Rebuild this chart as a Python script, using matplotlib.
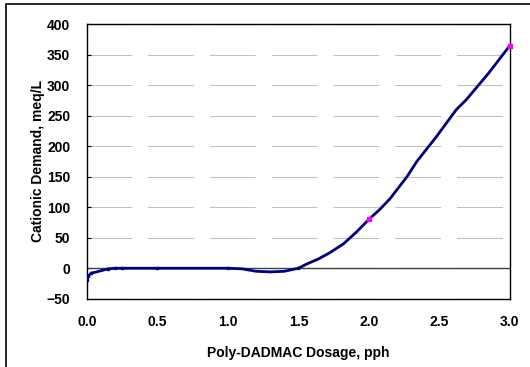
import matplotlib.pyplot as plt
from matplotlib.patches import Rectangle

plt.rcParams['font.family'] = ['Liberation Sans', 'DejaVu Sans']

# Curve (smoothed line)
dosage_curve = [0.0, 0.01, 0.03, 0.07, 0.10, 0.15, 0.20, 0.25, 0.50, 1.00, 1.10, 1.20,
                1.30, 1.40, 1.50, 1.56, 1.64, 1.72, 1.82, 1.91, 2.00, 2.08, 2.15,
                2.27, 2.34, 2.48, 2.62, 2.69, 2.85, 3.00]
demand_curve = [-20, -13, -8, -6, -4, -1, 0, 0, 0, 0, -1, -5,
                -6, -5, 0, 7, 15, 25, 40, 59, 80, 97, 114,
                150, 175, 216, 260, 276, 320, 365]

# Measured points
dosage_pts = [0.0, 0.01, 0.03, 0.15, 0.20, 0.25, 0.50, 1.00, 1.50]
demand_pts = [-20, -13, -8, -1, 0, 0, 0, 0, 0]
dosage_hi = [2.0, 3.0]
demand_hi = [80, 365]

y_ticks = [-50, 0, 50, 100, 150, 200, 250, 300, 350, 400]
x_ticks = [0.0, 0.5, 1.0, 1.5, 2.0, 2.5, 3.0]

fig = plt.figure(figsize=(5.30, 3.67), dpi=100)
ax = fig.add_axes([0.164, 0.186, 0.798, 0.748])

# outer chart border (cropped on the right/bottom)
fig.patches.append(Rectangle((6 / 530, -0.05), 1.1, 1 - 4 / 367 + 0.05,
                             transform=fig.transFigure, fill=False,
                             edgecolor='black', linewidth=1.2))

ax.set_xlim(0, 3)
ax.set_ylim(-50, 400)
ax.set_yticks(y_ticks)
ax.set_xticks(x_ticks)
ax.set_xticklabels([f"{v:.1f}" for v in x_ticks])
ax.set_yticklabels([str(v).replace('-', '\u2212') for v in y_ticks])

ax.grid(axis='y', color='#c0c0c0', linewidth=0.75, linestyle=(1, (44, 15.3)))
ax.grid(axis='x', visible=False)
ax.set_axisbelow(True)
ax.axhline(0, color='#404040', linewidth=1.0, zorder=1.5)

ax.plot(dosage_curve, demand_curve, color='#000080', linewidth=2.0,
        solid_capstyle='round', solid_joinstyle='round', zorder=3)
ax.plot(dosage_pts, demand_pts, 's', color='#000080', markersize=2, zorder=4)
ax.plot(dosage_hi, demand_hi, 's', color='#ff00ff', markersize=3, zorder=5,
        clip_on=False)

for s in ax.spines.values():
    s.set_color('black')
    s.set_linewidth(1.0)

ax.tick_params(axis='y', direction='in', length=3, width=0.8, pad=12,
               labelsize=10)
ax.tick_params(axis='x', length=0, pad=12, labelsize=10)
for lab in ax.get_xticklabels() + ax.get_yticklabels():
    lab.set_fontweight('bold')

ax.set_xlabel('Poly-DADMAC Dosage, pph', fontsize=10, fontweight='bold',
              labelpad=12)
ax.set_ylabel('Cationic Demand, meq/L', fontsize=10, fontweight='bold',
              labelpad=1)

fig.savefig('out.png', dpi=100)
